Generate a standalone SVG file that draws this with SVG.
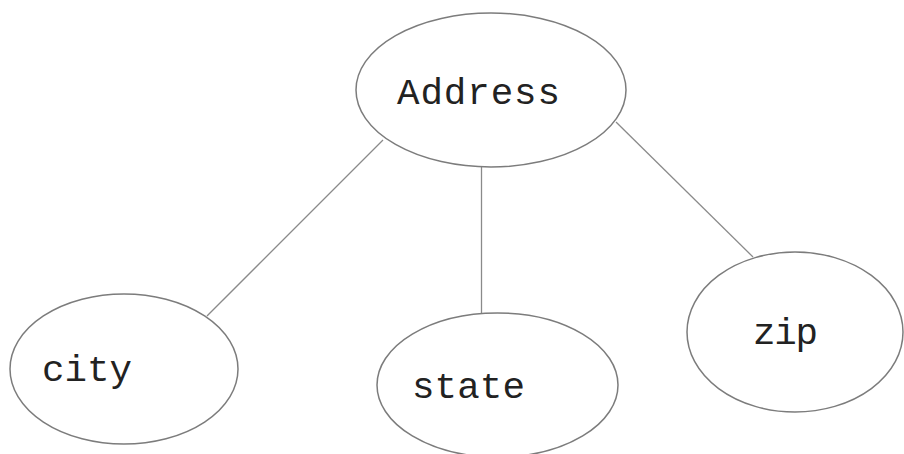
<svg xmlns="http://www.w3.org/2000/svg" width="904" height="454" viewBox="0 0 904 454">
<style>
.n{fill:#fff;stroke:#7c7c7c;stroke-width:1.5}
.c{stroke:#8a8a8a;stroke-width:1.3;fill:none}
.t{font-family:"Liberation Mono","Courier New",monospace;font-size:37.5px;fill:#222}
</style>
<rect width="904" height="454" fill="#fff"/>
<g id="connectors">
<line class="c" x1="383" y1="140" x2="207" y2="316"/>
<line class="c" x1="481.5" y1="167" x2="481.5" y2="313"/>
<line class="c" x1="616" y1="122" x2="753" y2="257"/>
</g>
<g id="address">
<ellipse class="n" cx="491" cy="90" rx="135" ry="77"/>
<text class="t" x="397" y="104" textLength="163">Address</text>
</g>
<g id="city">
<ellipse class="n" cx="124" cy="369" rx="114" ry="75"/>
<text class="t" x="42" y="381" textLength="90">city</text>
</g>
<g id="state">
<ellipse class="n" cx="497.5" cy="385" rx="120.5" ry="72"/>
<text class="t" x="412" y="398" textLength="113">state</text>
</g>
<g id="zip">
<ellipse class="n" cx="795" cy="332" rx="108" ry="80"/>
<text class="t" x="753" y="344" textLength="65">zip</text>
</g>
</svg>
